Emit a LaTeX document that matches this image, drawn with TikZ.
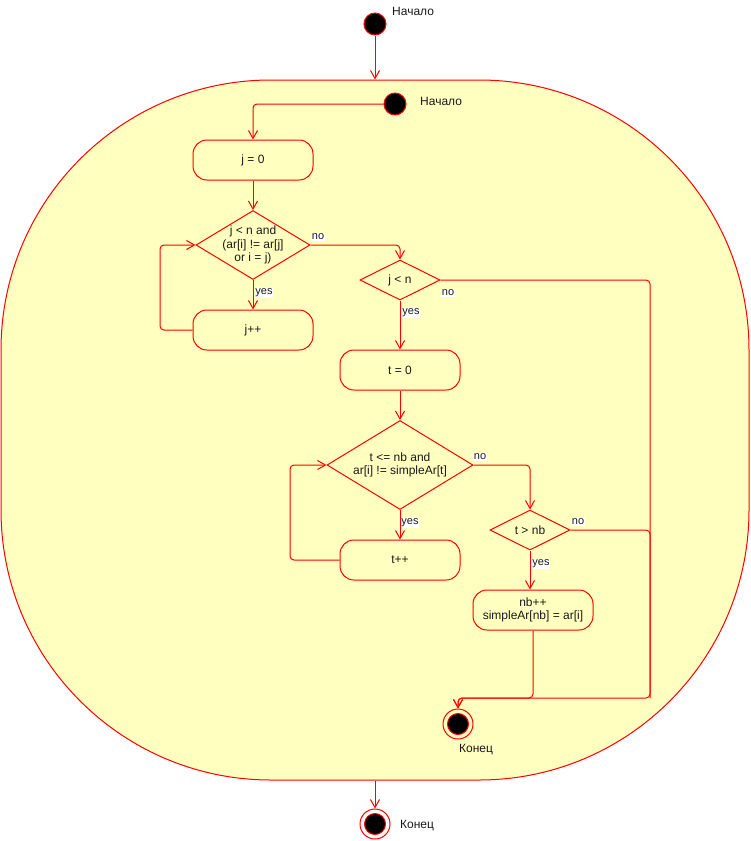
\documentclass[tikz,border=0pt]{standalone}
\usepackage{fontspec}
\setmainfont{Liberation Sans}
\usetikzlibrary{shapes.geometric,arrows.meta}
\definecolor{lred}{HTML}{FF0000}
\definecolor{ly}{HTML}{FFFFC0}
\definecolor{txt}{HTML}{1A1A1A}
\begin{document}
\begin{tikzpicture}[x=1pt,y=-1pt,
  font=\fontsize{12}{13.5}\selectfont,
  contbox/.style={draw=lred, fill=ly, rounded corners=270pt, minimum width=748pt, minimum height=700pt, line width=1pt, inner sep=0pt},
  act/.style={draw=lred, fill=ly, rounded corners=14pt, minimum width=120pt, minimum height=40pt, align=center, line width=1pt, text=txt, inner sep=1pt},
  dia/.style={diamond, draw=lred, fill=ly, inner sep=0pt, line width=1pt},
  dtext/.style={align=center, text=txt, inner sep=0pt},
  initnode/.style={circle, fill=black, draw=lred, minimum size=22pt, inner sep=0pt, line width=1pt},
  finnode/.style={circle, draw=lred, minimum size=30pt, inner sep=0pt, line width=1pt,
    path picture={\filldraw[fill=black, draw=lred, line width=1pt] (path picture bounding box.center) circle (10.5pt);}},
  flow/.style={draw=lred, line width=1pt, rounded corners=4pt, -{Straight Barb[length=8pt,width=9pt]}},
  plainline/.style={draw=lred, line width=1pt, rounded corners=4pt},
  lab/.style={fill=white, inner sep=0.8pt, font=\fontsize{11}{12}\selectfont, text=txt},
  nlabel/.style={text=txt, inner sep=0pt}
]
\useasboundingbox (0,0) rectangle (751,841);

% container
\node[contbox] (C) at (375,430) {};

% outer start and end
\node[initnode] (s0) at (375,24) {};
\node[nlabel, anchor=west] (s0l) at (392,11) {Начало};
\node[finnode] (e2) at (375,824) {};
\node[nlabel, anchor=west] (e2l) at (400,826) {Конец};

% inner nodes
\node[initnode] (s1) at (395,104) {};
\node[nlabel, anchor=west] (s1l) at (420,101) {Начало};

\node[act] (b1) at (253,160) {j = 0};
\node[dia, minimum width=114pt, minimum height=69pt] (d1) at (253,245) {};
\node[dtext] (d1t) at (253,245) {j < n and\\(ar[i] != ar[j]\\or i = j)};
\node[act] (b2) at (253,330) {j++};

\node[dia, minimum width=80pt, minimum height=40pt] (d2) at (400,280) {};
\node[dtext] (d2t) at (400,280) {j < n};

\node[act] (b3) at (400,370) {t = 0};
\node[dia, minimum width=146pt, minimum height=89pt] (d3) at (400,465) {};
\node[dtext] (d3t) at (400,465) {t <= nb and\\ar[i] != simpleAr[t]};
\node[act] (b4) at (400,560) {t++};

\node[dia, minimum width=80pt, minimum height=40pt] (d4) at (530,530) {};
\node[dtext] (d4t) at (530,530) {t > nb};
\node[act] (b5) at (533,610) {nb++\\simpleAr[nb] = ar[i]};

\node[finnode] (e1) at (458,724) {};
\node[nlabel] (e1l) at (476,750) {Конец};

% coordinates
\coordinate (k1) at (160,330);
\coordinate (k2) at (290,560);
\coordinate (r1) at (650,698);
\coordinate (m1) at (458,698);
\coordinate (q5) at (533,698);

% outer flows
\draw[flow] (s0) -- (C.north);
\draw[flow] (C.south) -- (e2);

% inner flows
\draw[flow] (s1.west) -| (b1.north);
\draw[flow] (b1.south) -- (d1.north);
\draw[flow] (d1.south) -- (b2.north);
\node[lab] (y1) at (264,293) {yes};
\draw[flow] (b2.west) -- (k1) |- (d1.west);
\draw[flow] (d1.east) -| (d2.north);
\node[lab] (n1) at (318,237) {no};

\draw[flow] (d2.south) -- (b3.north);
\node[lab] (y2) at (411,313) {yes};
\node[lab] (n2) at (448,293) {no};

\draw[flow] (b3.south) -- (d3.north);
\draw[flow] (d3.south) -- (b4.north);
\node[lab] (y3) at (410,523) {yes};
\draw[flow] (b4.west) -- (k2) |- (d3.west);
\draw[flow] (d3.east) -| (d4.north);
\node[lab] (n3) at (480,457) {no};

\draw[plainline] (d4.east) -| (r1);
\node[lab] (n4) at (578,522) {no};
\draw[flow] (d4.south) -- (b5.north -| d4.south);
\node[lab] (y4) at (541,564) {yes};

\draw[flow] (b5.south) -- (q5) -- (m1) -- (e1);
\draw[flow] (d2.east) -| (r1) -- (m1) -- (e1);
\end{tikzpicture}
\end{document}
